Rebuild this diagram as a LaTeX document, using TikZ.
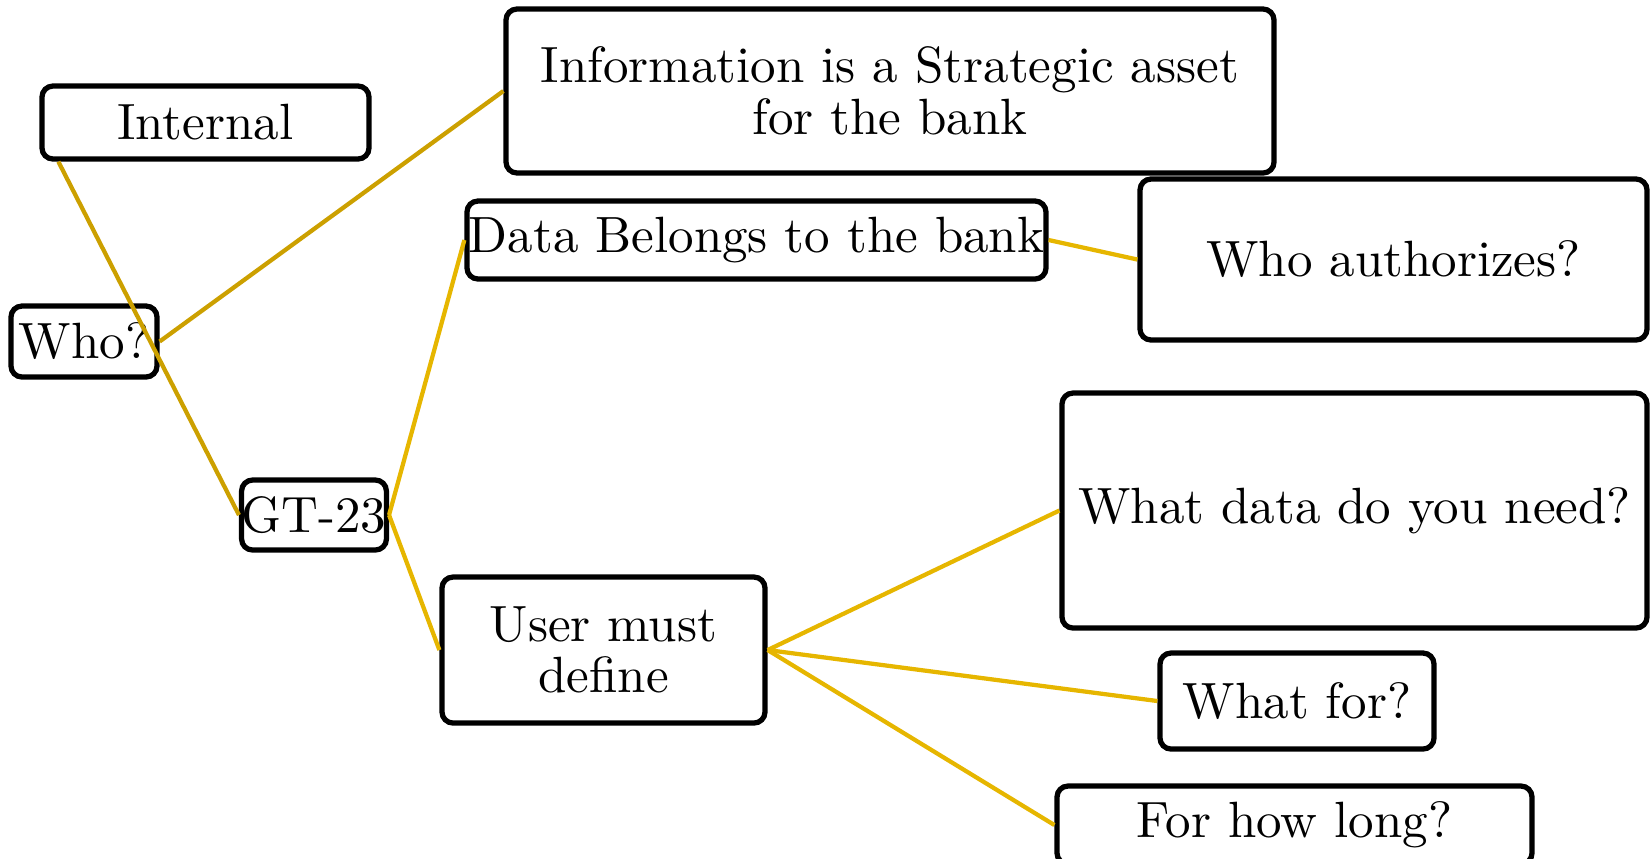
\documentclass[tikz,border=0pt]{standalone}
\usetikzlibrary{positioning}
\definecolor{darkgold}{RGB}{204,160,0}
\definecolor{brightgold}{RGB}{230,182,0}
\tikzset{
  box/.style={draw=black, line width=1.05pt, rounded corners=2.2pt, fill=white, inner sep=0pt, align=center,
    font=\fontsize{10.2}{10.3}\selectfont},
  linkA/.style={draw=darkgold, line width=0.85pt},
  linkB/.style={draw=brightgold, line width=0.85pt}
}
\begin{document}
\begin{tikzpicture}[x=0.2pt, y=-0.2pt]
\useasboundingbox (0,0) rectangle (1650,858);
\node[box, minimum width=65.4pt, minimum height=14.6pt] (int) at (205.5,122.5) {Internal};
\node[box, minimum width=29.2pt, minimum height=14.2pt] (who) at (84,341.5) {Who?};
\node[box, minimum width=153.6pt, minimum height=32.8pt] (info) at (890,91) {Information is a Strategic asset\\for the bank};
\node[box, minimum width=115.8pt, minimum height=15.6pt] (data) at (756.5,240) {Data Belongs to the bank};
\node[box, minimum width=101.4pt, minimum height=32.2pt] (auth) at (1393.5,259.5) {Who authorizes?};
\node[box, minimum width=28.8pt, minimum height=14pt] (gt) at (314,515) {GT-23};
\node[box, minimum width=64.6pt, minimum height=29.2pt] (user) at (603.5,650) {User must\\define};
\node[box, minimum width=117pt, minimum height=47pt] (wdata) at (1354.5,510.5) {What data do you need?};
\node[box, minimum width=54.8pt, minimum height=19.2pt] (wfor) at (1297,701) {What for?};
\node[box, minimum width=95pt, minimum height=15.6pt] (long) at (1294.5,825) {For how long?};
% connectors
\draw[linkA] ([xshift=3.8pt]int.south west) -- (gt.west);
\draw[linkA] (who.east) -- (info.west);
\draw[linkB] (gt.east) -- (data.west);
\draw[linkB] (gt.east) -- (user.west);
\draw[linkB] (data.east) -- (auth.west);
\draw[linkB] (user.east) -- (wdata.west);
\draw[linkB] (user.east) -- (wfor.west);
\draw[linkB] (user.east) -- (long.west);
\end{tikzpicture}
\end{document}
